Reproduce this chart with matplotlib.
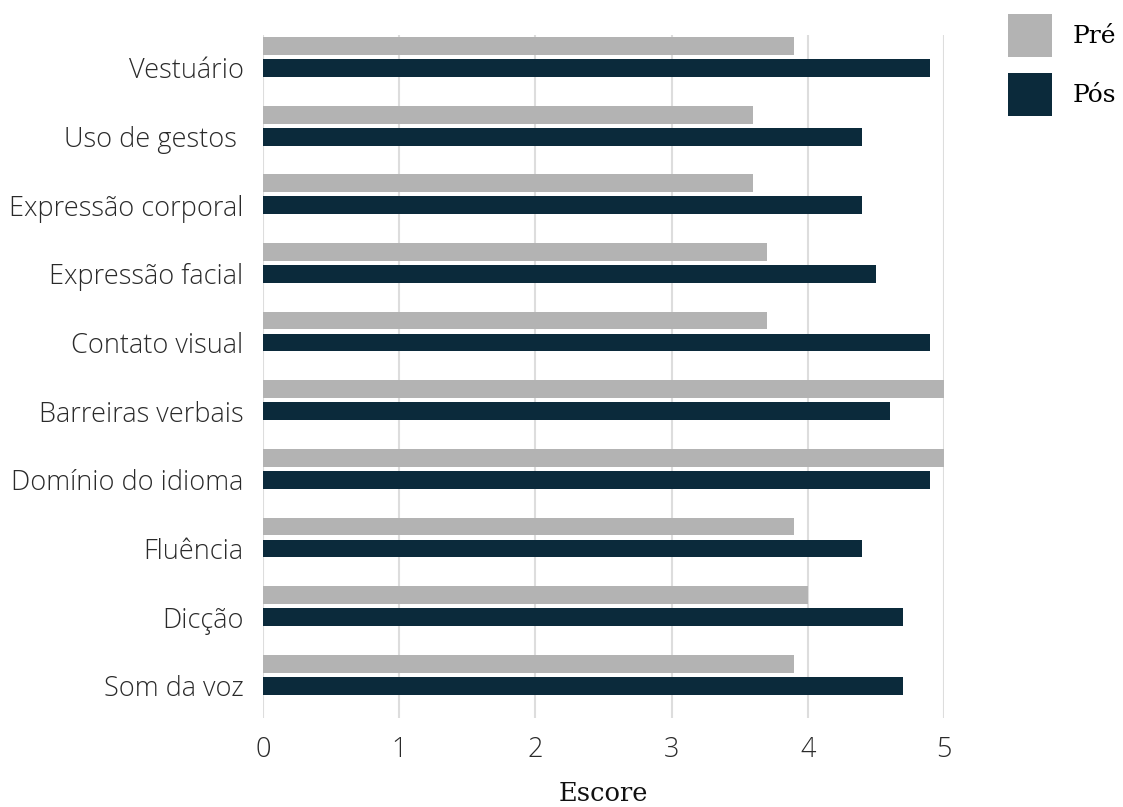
import matplotlib
matplotlib.use("Agg")
import matplotlib.pyplot as plt
import numpy as np

categories = ["Vestuário", "Uso de gestos ", "Expressão corporal", "Expressão facial",
              "Contato visual", "Barreiras verbais", "Domínio do idioma", "Fluência",
              "Dicção", "Som da voz"]
pre = [3.9, 3.6, 3.6, 3.7, 3.7, 5.0, 5.0, 3.9, 4.0, 3.9]
pos = [4.9, 4.4, 4.4, 4.5, 4.9, 4.6, 4.9, 4.4, 4.7, 4.7]

PRE_COLOR = "#b3b3b3"
POS_COLOR = "#0b2a3b"

fig = plt.figure(figsize=(11.23, 8.07), dpi=100)
ax = fig.add_axes([0.2342, 0.1103, 0.6064, 0.8463])

y = np.arange(len(categories))
h = 0.26
ax.barh(y - 0.32, pre, height=h, color=PRE_COLOR, label="Pré", zorder=3)
ax.barh(y, pos, height=h, color=POS_COLOR, label="Pós", zorder=3)

ax.set_xlim(0, 5)
ax.set_ylim(len(categories) - 0.53, -0.48)
ax.set_yticks(y)
ax.set_yticklabels(categories, fontfamily="Open Sans", fontweight="light", fontsize=19.5, color="#2a2a2a")
ax.set_xticks(range(6))
ax.set_xticklabels([str(i) for i in range(6)], fontfamily="Open Sans", fontweight="light", fontsize=19.5, color="#2a2a2a")
ax.tick_params(axis="both", length=0)
ax.tick_params(axis="x", pad=13)
ax.tick_params(axis="y", pad=14)
ax.grid(axis="x", color="#dddddd", linewidth=1.5, zorder=0)
for s in ax.spines.values():
    s.set_visible(False)

ax.set_xlabel("Escore", fontfamily="DejaVu Serif", fontsize=18.5, color="#111111", labelpad=12)

fig.legend(loc="upper left", bbox_to_anchor=(0.8976, 0.9827), frameon=False,
           prop={"family": "DejaVu Serif", "size": 18},
           borderaxespad=0, borderpad=0,
           handlelength=1.76, handleheight=2.27, labelspacing=0.64, handletextpad=0.84)

fig.savefig("out.png", dpi=100)
